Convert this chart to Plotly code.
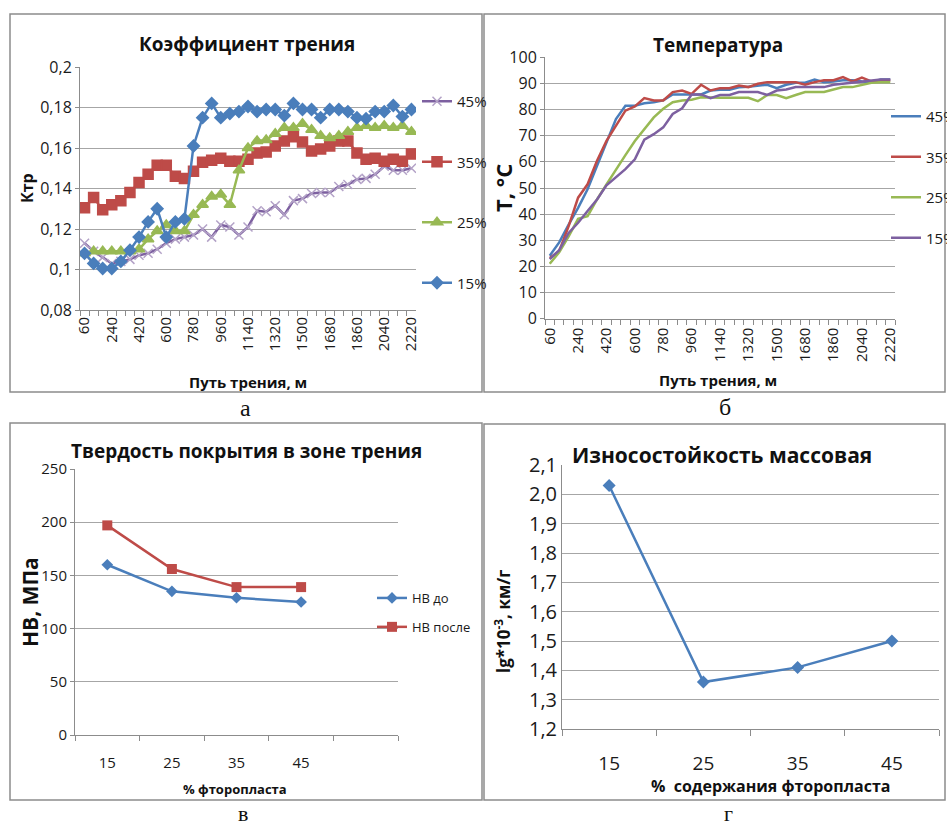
import plotly.graph_objects as go

W, H = 947, 823
FONT = "Open Sans"
SERIF = "Liberation Serif"
GRID = "#a6a6a6"
AX = "#8c8c8c"
BLUE, RED, GREEN, PURPLE, LAV = "#4a7ebb", "#be4b48", "#98b954", "#7d60a0", "#b3a2c7"

# ---------------- data ----------------
distance = [60, 120, 180, 240, 300, 360, 420, 480, 540, 600, 660, 720, 780, 840, 900, 960,
            1020, 1080, 1140, 1200, 1260, 1320, 1380, 1440, 1500, 1560, 1620, 1680, 1740,
            1800, 1860, 1920, 1980, 2040, 2100, 2160, 2220]
distance_tick_labels = [60, 240, 420, 600, 780, 960, 1140, 1320, 1500, 1680, 1860, 2040, 2220]

kf_15 = [0.108, 0.103, 0.1005, 0.1005, 0.104, 0.1095, 0.116, 0.1235, 0.130, 0.116,
         0.1235, 0.125, 0.161, 0.175, 0.182, 0.175, 0.177, 0.178, 0.1805, 0.178,
         0.179, 0.179, 0.176, 0.182, 0.179, 0.179, 0.175, 0.179, 0.179, 0.178,
         0.175, 0.1745, 0.178, 0.178, 0.181, 0.1755, 0.179]
kf_25 = [0.108, 0.109, 0.109, 0.109, 0.109, 0.109, 0.110, 0.115, 0.119, 0.122,
         0.119, 0.119, 0.127, 0.132, 0.136, 0.137, 0.132, 0.149, 0.160,
         0.1635, 0.164, 0.167, 0.170, 0.170, 0.172, 0.169, 0.166, 0.165, 0.166,
         0.168, 0.170, 0.171, 0.170, 0.171, 0.170, 0.171, 0.168]
kf_35 = [0.1305, 0.1355, 0.1295, 0.132, 0.134, 0.138, 0.143, 0.147, 0.1515, 0.1515,
         0.146, 0.145, 0.1485, 0.153, 0.154, 0.155, 0.1535, 0.1535, 0.1545,
         0.1575, 0.158, 0.161, 0.1635, 0.1655, 0.163, 0.1585, 0.1595, 0.161, 0.1635,
         0.1635, 0.1575, 0.1545, 0.155, 0.1535, 0.1545, 0.1535, 0.157]
kf_45 = [0.113, 0.109, 0.106, 0.103, 0.104, 0.105, 0.107, 0.108, 0.110, 0.113,
         0.115, 0.116, 0.117, 0.120, 0.116, 0.122, 0.121, 0.117, 0.121,
         0.129, 0.1285, 0.1315, 0.127, 0.134, 0.135, 0.1375, 0.138, 0.138, 0.141,
         0.142, 0.1445, 0.145, 0.147, 0.151, 0.149, 0.149, 0.150]
kf_ticks = [0.08, 0.10, 0.12, 0.14, 0.16, 0.18, 0.20]
kf_tick_text = ["0,08", "0,1", "0,12", "0,14", "0,16", "0,18", "0,2"]

t_45 = [24.1, 29.2, 36, 42.4, 49.5, 58.5, 67.4, 76.4, 81.5, 81.5,
        82.4, 82.8, 83.5, 85.8, 85.8, 85.8, 85.8, 87.3, 87.6, 87.6,
        88.5, 88.7, 89.2, 89.5, 88.2, 89.5, 90.3, 90.3, 91.5, 90.5,
        90.7, 91.2, 91.2, 90.7, 90.5, 91.5, 91.5]
t_35 = [23.2, 25.8, 35.4, 46.3, 51.4, 60.4, 68, 73.8, 79.6, 81.2,
        84.4, 83.5, 83.5, 86.7, 87.3, 86, 89.5, 87.3, 88.2, 88.2,
        89.2, 88.6, 89.9, 90.5, 90.5, 90.5, 90.5, 89.5, 90.5, 91.2,
        91.2, 92.4, 90.8, 92.2, 90.8, 91, 91.2]
t_25 = [21, 25.4, 31.5, 38.2, 39.2, 45.6, 51.4, 57.2, 62.6, 68,
        72.6, 77, 80.3, 82.8, 83.5, 83.8, 84.7, 84.5, 84.5, 84.5,
        84.5, 84.5, 83.2, 85.6, 85.6, 84.4, 85.6, 86.7, 86.7, 86.7,
        87.7, 88.6, 88.6, 89.5, 90.3, 90.5, 90.5]
t_15 = [22.8, 26.2, 32.8, 36.7, 41.2, 45.6, 51, 54, 57.2, 61,
        68.5, 70.6, 73.2, 78.3, 80.5, 85.8, 85.8, 84.4, 85.6, 85.6,
        86.7, 86.7, 86.7, 85.6, 87.3, 87.7, 88.6, 88.6, 88.6, 88.6,
        89.5, 89.9, 90.3, 90.6, 91.2, 91.5, 91.5]

ptfe_pct = ["15", "25", "35", "45"]
hb_before = [160, 135, 129, 125]
hb_after = [197, 156, 139, 139]

wear = [2.03, 1.36, 1.41, 1.50]
wear_ticks = [1.2, 1.3, 1.4, 1.5, 1.6, 1.7, 1.8, 1.9, 2.0, 2.1]
wear_tick_text = ["1,2", "1,3", "1,4", "1,5", "1,6", "1,7", "1,8", "1,9", "2,0", "2,1"]


def PX(x):
    return x / W


def PY(y):
    return 1 - y / H


cats = [str(d) for d in distance]
cat_text = [str(d) if d in distance_tick_labels else "" for d in distance]

fig = go.Figure()

# ---- panel a ----
for name, vals, col, sym, msize, mcol in [
    ("45%", kf_45, PURPLE, "x-thin", 9, LAV),
    ("35%", kf_35, RED, "square", 10, RED),
    ("25%", kf_25, GREEN, "triangle-up", 10, GREEN),
    ("15%", kf_15, BLUE, "diamond", 9, BLUE),
]:
    fig.add_trace(go.Scatter(
        x=cats, y=vals, name=name, mode="lines+markers", xaxis="x", yaxis="y",
        line=dict(color=col, width=2.5),
        marker=dict(symbol=sym, size=msize, color=mcol, line=dict(color=mcol, width=1.5)),
        legend="legend", legendgroup="a" + name))

# ---- panel b ----
for name, vals, col in [("45%", t_45, BLUE), ("35%", t_35, RED),
                        ("25%", t_25, GREEN), ("15%", t_15, PURPLE)]:
    fig.add_trace(go.Scatter(
        x=cats, y=vals, name=name, mode="lines", xaxis="x2", yaxis="y2",
        line=dict(color=col, width=2.5), legend="legend2", legendgroup="b" + name))

# ---- panel c ----
fig.add_trace(go.Scatter(x=ptfe_pct, y=hb_before, name="HB до", mode="lines+markers",
                         xaxis="x3", yaxis="y3", line=dict(color=BLUE, width=2.5),
                         marker=dict(symbol="diamond", size=9, color=BLUE),
                         legend="legend3", legendgroup="c1"))
fig.add_trace(go.Scatter(x=ptfe_pct, y=hb_after, name="HB после", mode="lines+markers",
                         xaxis="x3", yaxis="y3", line=dict(color=RED, width=2.5),
                         marker=dict(symbol="square", size=10, color=RED),
                         legend="legend3", legendgroup="c2"))
fig.add_trace(go.Scatter(x=[" "], y=[None], mode="none", xaxis="x3", yaxis="y3",
                         showlegend=False, hoverinfo="skip"))

# ---- panel d ----
fig.add_trace(go.Scatter(x=ptfe_pct, y=wear, mode="lines+markers", xaxis="x4", yaxis="y4",
                         line=dict(color=BLUE, width=2.5),
                         marker=dict(symbol="diamond", size=10, color=BLUE),
                         showlegend=False))

tick_common = dict(ticks="outside", tickcolor=AX, showline=True, linecolor=AX,
                   linewidth=1, zeroline=False, automargin=False)

fig.update_layout(
    width=W, height=H, margin=dict(l=0, r=0, t=0, b=0, autoexpand=False),
    paper_bgcolor="white", plot_bgcolor="white",
    font=dict(family=FONT, color="#1a1a1a"),
    xaxis=dict(domain=[PX(80), PX(416)], anchor="y", type="category",
               categoryorder="array", categoryarray=cats, tickvals=cats, ticktext=cat_text,
               tickson="boundaries", ticklen=5, tickangle=-90, showgrid=False,
               ticklabelstandoff=0,
               range=[-0.5, len(cats) - 0.5], tickfont=dict(size=15), **tick_common),
    yaxis=dict(domain=[PY(310), PY(67)], anchor="x", range=[0.08, 0.2],
               tickvals=kf_ticks, ticktext=kf_tick_text, ticklen=4,
               showgrid=True, gridcolor=GRID, tickfont=dict(size=16), **tick_common),
    xaxis2=dict(domain=[PX(545), PX(895)], anchor="y2", type="category",
                categoryorder="array", categoryarray=cats, tickvals=cats, ticktext=cat_text,
                tickson="boundaries", ticklen=5, tickangle=-90, showgrid=False,
                ticklabelstandoff=2,
                range=[-0.5, len(cats) - 0.5], tickfont=dict(size=15), **tick_common),
    yaxis2=dict(domain=[PY(318.7), PY(57.3)], anchor="x2", range=[0, 100], dtick=10,
                ticklen=4, showgrid=True, gridcolor=GRID, tickfont=dict(size=16), **tick_common),
    xaxis3=dict(domain=[PX(75), PX(398)], anchor="y3", type="category",
                categoryorder="array", categoryarray=ptfe_pct + [" "],
                tickson="boundaries", ticklen=5, showgrid=False, range=[-0.5, 4.5],
                ticklabelstandoff=14,
                tickfont=dict(size=15), **tick_common),
    yaxis3=dict(domain=[PY(735), PY(469)], anchor="x3", range=[0, 250], dtick=50,
                ticklen=4, showgrid=True, gridcolor=GRID, tickfont=dict(size=15), **tick_common),
    xaxis4=dict(domain=[PX(562), PX(939)], anchor="y4", type="category",
                categoryorder="array", categoryarray=ptfe_pct,
                tickson="boundaries", ticklen=6, showgrid=False, range=[-0.5, 3.5],
                ticklabelstandoff=17,
                tickfont=dict(size=19), **tick_common),
    yaxis4=dict(domain=[PY(729), PY(465)], anchor="x4", range=[1.2, 2.1],
                tickvals=wear_ticks, ticktext=wear_tick_text, ticklen=0,
                showgrid=True, gridcolor=GRID, tickfont=dict(size=20), **tick_common),
    legend=dict(x=PX(417), y=PY(85), xanchor="left", yanchor="top",
                traceorder="grouped", tracegroupgap=38,
                font=dict(size=15), bgcolor="rgba(0,0,0,0)"),
    legend2=dict(x=PX(886), y=PY(100), xanchor="left", yanchor="top",
                 traceorder="grouped", tracegroupgap=18,
                 font=dict(size=15), bgcolor="rgba(0,0,0,0)"),
    legend3=dict(x=PX(372), y=PY(583), xanchor="left", yanchor="top",
                 traceorder="grouped", tracegroupgap=9,
                 font=dict(size=13), bgcolor="rgba(0,0,0,0)"),
)

# frames
for x0, y0, x1, y1 in [(10, 14, 482, 392), (484, 14, 945, 392),
                       (10, 423, 482, 800), (484, 424, 945, 800)]:
    fig.add_shape(type="rect", xref="paper", yref="paper",
                  x0=PX(x0), x1=PX(x1), y0=PY(y1), y1=PY(y0),
                  line=dict(color=AX, width=1.5), fillcolor="rgba(0,0,0,0)")


def ann(text, x, y, size, bold=True, angle=0, family=FONT, color="#111111", yanchor="middle"):
    fig.add_annotation(text=("<b>%s</b>" % text) if bold else text,
                       x=PX(x), y=PY(y), xref="paper", yref="paper",
                       xanchor="center", yanchor=yanchor, showarrow=False,
                       textangle=angle, font=dict(size=size, family=family, color=color))


# titles
ann("Коэффициент трения", 247, 44, 19)
ann("Температура", 718, 45, 19)
ann("Твердость покрытия в зоне трения", 246, 451, 19)
ann("Износостойкость массовая", 722, 455, 21)
# axis titles
ann("Путь трения, м", 248, 382, 15)
ann("Путь трения, м", 718, 380, 15)
ann("Ктр", 27, 188, 16, angle=-90)
ann("T, °C", 503, 188, 22, angle=-90)
ann("HB, МПа", 30, 602, 21, angle=-90)
ann("% фторопласта", 235, 789, 13)
ann("lg*10<sup>-3</sup>, км/г", 502, 622, 17, angle=-90)
ann("%  содержания фторопласта", 770, 786, 16)
# captions
ann("а", 245, 408, 24, bold=False, family=SERIF)
ann("б", 725, 407, 24, bold=False, family=SERIF)
ann("в", 243, 813, 22, bold=False, family=SERIF)
ann("г", 728, 813, 22, bold=False, family=SERIF)

fig.write_html("out.html")
